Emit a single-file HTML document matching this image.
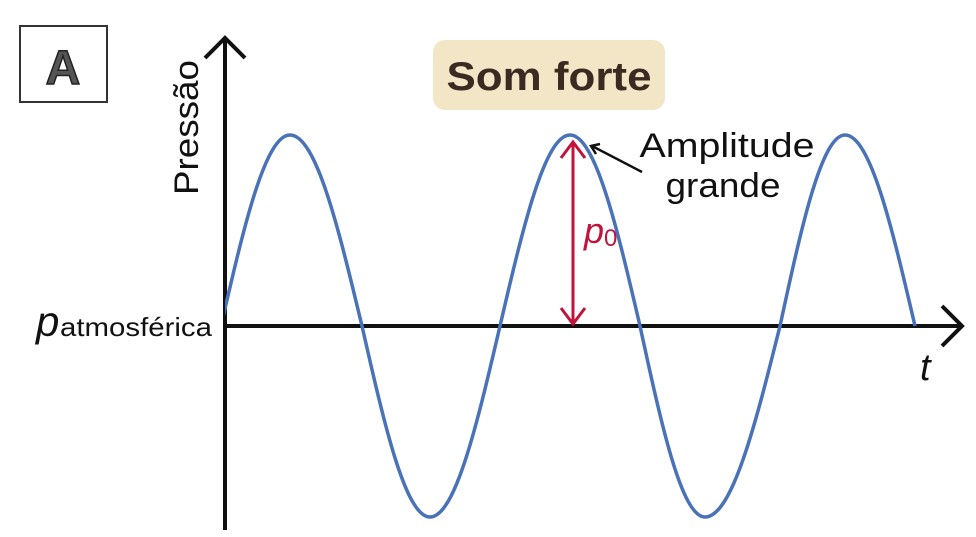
<!DOCTYPE html>
<html><head><meta charset="utf-8"><style>
html,body{margin:0;padding:0;background:#fff;}
svg{display:block;}
text{font-family:"Liberation Sans",sans-serif;}
</style></head><body>
<svg width="976" height="537" viewBox="0 0 976 537">
<defs><clipPath id="plot"><rect x="225" y="0" width="751" height="537"/></clipPath></defs>
<rect x="20" y="26" width="87" height="76" fill="#fff" stroke="#333" stroke-width="2"/>
<text x="63" y="84" font-size="48" font-weight="bold" fill="#555" stroke="#222" stroke-width="1.5" text-anchor="middle">A</text>
<rect x="433" y="40" width="232" height="70" rx="12" fill="#f3e6c6"/>
<text x="549" y="90" font-size="40" font-weight="bold" fill="#3a2a22" text-anchor="middle" textLength="205" lengthAdjust="spacingAndGlyphs">Som forte</text>
<g id="axes">
<line x1="225" y1="38" x2="225" y2="530" stroke="#111" stroke-width="4"/>
<polyline points="205,58 225,38 245,58" fill="none" stroke="#111" stroke-width="4"/>
<line x1="225" y1="326" x2="962" y2="326" stroke="#111" stroke-width="4"/>
<polyline points="942,306 962,326 942,346" fill="none" stroke="#111" stroke-width="4"/>
</g>
<text transform="translate(198,195) rotate(-90)" font-size="34" fill="#111" textLength="135" lengthAdjust="spacingAndGlyphs">Pressão</text>
<text x="36" y="336" font-size="42" font-style="italic" fill="#111">p</text>
<text x="60" y="336" font-size="26" fill="#111" textLength="152" lengthAdjust="spacingAndGlyphs">atmosférica</text>
<text x="920" y="380" font-size="38" font-style="italic" fill="#111">t</text>
<g id="wave" clip-path="url(#plot)"></g>
<line x1="573" y1="142" x2="573" y2="324" stroke="#c0143c" stroke-width="3"/>
<polyline points="561,158 573,142 585,158" fill="none" stroke="#c0143c" stroke-width="3"/>
<polyline points="561,308 573,324 585,308" fill="none" stroke="#c0143c" stroke-width="3"/>
<text x="584" y="243" font-size="36" font-style="italic" fill="#c0143c">p<tspan font-size="24" font-style="normal" dy="3">0</tspan></text>
<line x1="592" y1="146" x2="642" y2="172" stroke="#111" stroke-width="2.5"/>
<polyline points="600,144 591,146 596,154" fill="none" stroke="#111" stroke-width="2.5"/>
<text x="727" y="157" font-size="34" fill="#111" text-anchor="middle" textLength="175" lengthAdjust="spacingAndGlyphs">Amplitude</text>
<text x="723" y="197" font-size="34" fill="#111" text-anchor="middle" textLength="115" lengthAdjust="spacingAndGlyphs">grande</text>
</svg>
<script>
// key points of the waveform (time from origin, relative pressure)
const tData = [-4, 65, 137, 205, 275, 345, 415, 480, 555, 620, 690];
const pData = [0, 1, 0, -1, 0, 1, 0, -1, 0, 1, 0];
const ampPx = 191;
function xScale(t){ return 225 + t; }
function yScale(p){ return 326 - p*ampPx; }
const ns = 'http://www.w3.org/2000/svg';
let d = 'M' + xScale(tData[0]) + ',' + yScale(pData[0]);
for (let i = 1; i < tData.length; i++) {
  const x0 = xScale(tData[i-1]), y0 = yScale(pData[i-1]);
  const x1 = xScale(tData[i]), y1 = yScale(pData[i]);
  const dx = x1 - x0, dy = y1 - y0;
  let c1x, c1y, c2x, c2y;
  if (pData[i-1] === 0) {
    c1x = x0 + 0.3261*dx; c1y = y0 + 0.5123*dy;
    c2x = x0 + 0.6381*dx; c2y = y1;
  } else {
    c1x = x0 + 0.3619*dx; c1y = y0;
    c2x = x0 + 0.6739*dx; c2y = y0 + 0.4877*dy;
  }
  d += ' C' + c1x + ',' + c1y + ' ' + c2x + ',' + c2y + ' ' + x1 + ',' + y1;
}
const path = document.createElementNS(ns, 'path');
path.setAttribute('d', d);
path.setAttribute('fill', 'none');
path.setAttribute('stroke', '#4a72b8');
path.setAttribute('stroke-width', '3.5');


document.getElementById('wave').appendChild(path);
</script>
</body></html>
